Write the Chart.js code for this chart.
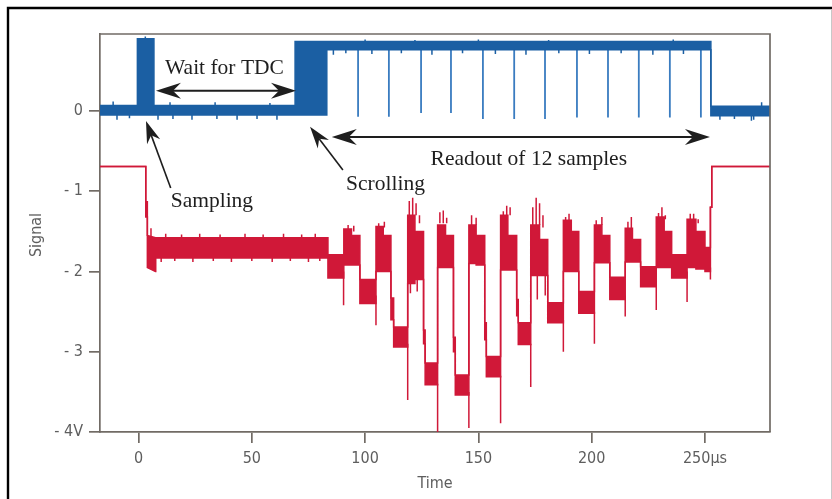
<!DOCTYPE html>
<html>
<head>
<meta charset="utf-8">
<script src="https://cdn.jsdelivr.net/npm/chart.js@4/dist/chart.umd.min.js"></script>
<style>
  html, body { margin: 0; padding: 0; background: #ffffff; }
  #wrap { width: 832px; height: 499px; }
</style>
</head>
<body>
<div id="wrap"><canvas id="c" width="832" height="499"></canvas></div>
<script>
// ---------------- DATA ----------------
const xTicks = [0, 50, 100, 150, 200, 250];
const xTickLabels = ['0', '50', '100', '150', '200', '250µs'];
const yTicks = [-4, -3, -2, -1, 0];
const yTickLabels = ['- 4V', '- 3', '- 2', '- 1', '0'];

// Blue (digital) trace: envelope of the noisy band
const blueX  = [-17, -0.5, -0.5, 6.8, 6.8, 69.1, 69.1, 83.1, 83.1, 252.6, 252.6, 278.7];
const blueHi = [0.07, 0.07, 0.90, 0.90, 0.07, 0.07, 0.865, 0.865, 0.865, 0.865, 0.06, 0.06];
const blueLo = [-0.05, -0.05, -0.05, -0.05, -0.05, -0.05, -0.05, -0.05, 0.765, 0.765, -0.06, -0.06];

// Blue readout pulses (12 samples)
const blueReadoutX   = [96.9, 110.5, 124.7, 137.9, 152.0, 165.8, 179.4, 193.5, 207.2, 220.8, 234.5, 248.2];
const blueReadoutLow = [-0.07, -0.07, -0.025, -0.025, -0.10, -0.10, -0.10, -0.08, -0.08, -0.08, -0.08, -0.08];

// Blue small noise spikes
const blueNoiseX    = [-11.2, -9.5, -4, 3, 8.6, 13.9, 15.2, 23.6, 33.8, 34.6, 43.5, 52.3, 58, 61.1,
                       86, 91.5, 100, 103, 116, 122, 129.5, 143, 150, 157.5, 171, 181, 185.5, 199, 213, 227, 236, 240.5,
                       256.6, 263, 270.5, 271.5, 275];
const blueNoiseFrom = [0.05, -0.03, -0.03, 0.90, -0.03, 0.05, -0.03, -0.03, 0.05, -0.03, -0.03, -0.03, 0.05, -0.03,
                       0.78, 0.78, 0.86, 0.78, 0.78, 0.86, 0.78, 0.78, 0.86, 0.78, 0.78, 0.86, 0.78, 0.78, 0.78, 0.78, 0.86, 0.78,
                       -0.05, -0.05, -0.05, -0.05, 0.05];
const blueNoiseTo   = [0.12, -0.11, -0.09, 0.93, -0.11, 0.11, -0.10, -0.11, 0.11, -0.10, -0.11, -0.10, 0.10, -0.11,
                       0.70, 0.72, 0.89, 0.71, 0.72, 0.885, 0.70, 0.72, 0.89, 0.71, 0.70, 0.885, 0.72, 0.71, 0.72, 0.70, 0.89, 0.71,
                       -0.11, -0.10, -0.12, -0.11, 0.11];

// Red (analog) trace: envelope of the noisy band (step-wise)
const redX  = [-17, 3.2, 3.2, 3.9, 3.9, 7.5, 7.6, 83.6, 83.6, 90.6,
               90.6, 94, 94, 97.7, 97.7, 104.8,
               104.8, 108, 108, 111.4, 111.4, 112.6, 112.6, 118.8,
               118.8, 122, 122, 125.8, 125.8, 126.5, 126.5, 132,
               132, 135.5, 135.5, 139, 139, 139.8, 139.8, 145.8,
               145.8, 149, 149, 152.8, 152.8, 153.5, 153.5, 159.8,
               159.8, 163, 163, 166.9, 166.9, 167.6, 167.6, 173.1,
               173.1, 177, 177, 180.6, 180.6, 187.5,
               187.5, 191, 191, 194.3, 194.3, 201.2,
               201.2, 204.5, 204.5, 208, 208, 214.8,
               214.8, 218, 218, 221.6, 221.6, 228.5,
               228.5, 232, 232, 235.3, 235.3, 242.1,
               242.1, 246, 246, 250, 250, 252.4, 252.4, 253, 253, 278.7];
const redHi = [-0.69, -0.69, -1.13, -1.13, -1.55, -1.58, -1.58, -1.58, -1.79, -1.79,
               -1.47, -1.47, -1.55, -1.55, -2.10, -2.10,
               -1.44, -1.44, -1.55, -1.55, -2.33, -2.33, -2.69, -2.69,
               -1.30, -1.30, -1.50, -1.50, -2.73, -2.73, -3.14, -3.14,
               -1.42, -1.42, -1.55, -1.55, -2.82, -2.82, -3.29, -3.29,
               -1.42, -1.42, -1.55, -1.55, -2.64, -2.64, -3.06, -3.06,
               -1.30, -1.30, -1.55, -1.55, -2.35, -2.35, -2.64, -2.64,
               -1.42, -1.42, -1.60, -1.60, -2.39, -2.39,
               -1.36, -1.36, -1.50, -1.50, -2.25, -2.25,
               -1.42, -1.42, -1.55, -1.55, -2.07, -2.07,
               -1.46, -1.46, -1.60, -1.60, -1.94, -1.94,
               -1.32, -1.32, -1.50, -1.50, -1.79, -1.79,
               -1.35, -1.35, -1.50, -1.50, -1.70, -1.70, -1.20, -1.20, -0.69, -0.69];
const redLo = [-0.69, -0.69, -1.32, -1.32, -1.95, -2.00, -1.83, -1.83, -2.08, -2.08,
               -1.92, -1.92, -1.92, -1.92, -2.40, -2.40,
               -2.00, -2.00, -2.00, -2.00, -2.60, -2.60, -2.94, -2.94,
               -2.15, -2.15, -2.10, -2.10, -2.90, -2.90, -3.41, -3.41,
               -1.95, -1.95, -1.95, -1.95, -3.00, -3.00, -3.54, -3.54,
               -1.90, -1.90, -1.92, -1.92, -2.85, -2.85, -3.31, -3.31,
               -1.98, -1.98, -1.98, -1.98, -2.55, -2.55, -2.91, -2.91,
               -2.05, -2.05, -2.05, -2.05, -2.64, -2.64,
               -2.00, -2.00, -2.00, -2.00, -2.52, -2.52,
               -1.89, -1.89, -1.89, -1.89, -2.35, -2.35,
               -1.88, -1.88, -1.88, -1.88, -2.19, -2.19,
               -1.95, -1.95, -1.95, -1.95, -2.08, -2.08,
               -1.95, -1.95, -1.97, -1.97, -2.00, -2.00, -1.20, -1.20, -0.69, -0.69];

// Red spikes (vertical excursions off the band)
const redSpikeX    = [90.5, 104.8, 118.8, 132.0, 145.8, 159.8, 173.1, 187.5, 201.2, 214.8, 228.5, 242.1, 252.4,
                      5.5, 92.5, 95, 106, 108.5, 119.5, 121, 122.5, 124, 133, 134.5, 136, 147, 149,
                      161, 162.5, 164, 174, 175.5, 177, 178.5, 188.5, 190, 202, 204.5, 216, 217.5,
                      229.5, 231, 232.5, 243.5, 245, 247, 120, 123, 176, 179.5,
                      12, 19, 27, 36, 47, 55, 64, 72, 78, 10, 16, 24, 33, 41, 50, 59, 67, 75, 80];
const redSpikeFrom = [-2.00, -2.30, -2.90, -3.40, -3.50, -3.30, -2.90, -2.60, -2.50, -2.30, -2.10, -2.00, -1.95,
                      -1.60, -1.48, -1.50, -1.44, -1.45, -1.30, -1.30, -1.30, -1.40, -1.40, -1.40, -1.40, -1.42, -1.42,
                      -1.30, -1.30, -1.30, -1.42, -1.42, -1.42, -1.45, -1.36, -1.36, -1.42, -1.42, -1.46, -1.46,
                      -1.32, -1.32, -1.35, -1.35, -1.35, -1.40, -2.10, -2.10, -2.00, -2.00,
                      -1.58, -1.58, -1.58, -1.58, -1.58, -1.58, -1.58, -1.58, -1.58,
                      -1.83, -1.83, -1.83, -1.83, -1.83, -1.83, -1.83, -1.83, -1.83, -1.83];
const redSpikeTo   = [-2.42, -2.67, -3.60, -4.00, -3.95, -3.89, -3.44, -3.00, -2.90, -2.56, -2.48, -2.38, -2.10,
                      -1.46, -1.42, -1.43, -1.40, -1.38, -1.12, -1.08, -1.15, -1.30, -1.26, -1.24, -1.33, -1.30, -1.33,
                      -1.25, -1.18, -1.20, -1.20, -1.08, -1.15, -1.30, -1.32, -1.28, -1.36, -1.32, -1.38, -1.32,
                      -1.27, -1.20, -1.30, -1.28, -1.28, -1.35, -2.27, -2.25, -2.35, -2.30,
                      -1.53, -1.54, -1.53, -1.54, -1.53, -1.54, -1.53, -1.54, -1.53,
                      -1.88, -1.87, -1.88, -1.87, -1.88, -1.87, -1.88, -1.87, -1.88, -1.87];

// ---------------- STYLE / ANNOTATIONS ----------------
const BLUE = '#1b5fa3';
const BLUE_LIGHT = '#3a7cc0';
const RED = '#d01838';
const AXIS = '#716b65';
const TICKTXT = '#5e5e5e';
const SANS = "'DejaVu Sans Condensed', 'Liberation Sans Narrow', sans-serif";
const SERIF = "'Liberation Serif', 'Times New Roman', serif";

// annotation placement in data units
const annoTexts = [
  { text: 'Wait for TDC', x: 11.7, y: 0.46 },
  { text: 'Sampling', x: 14.2, y: -1.19 },
  { text: 'Scrolling', x: 91.6, y: -0.985 },
  { text: 'Readout of 12 samples', x: 128.9, y: -0.672 }
];
const annoArrows = [
  { x1: 7.7, y1: 0.253, x2: 69.5, y2: 0.253, both: true },
  { x1: 85.3, y1: -0.324, x2: 252.2, y2: -0.324, both: true },
  { x1: 14.2, y1: -0.96, x2: 3.3, y2: -0.125, both: false },
  { x1: 90.2, y1: -0.735, x2: 75.7, y2: -0.196, both: false }
];

// ---------------- build datasets ----------------
const pts = (xs, ys) => xs.map((x, i) => ({ x: x, y: ys[i] }));
function spikes(xs, from, to) {
  const out = [];
  xs.forEach((x, i) => { out.push({ x: x, y: from[i] }); out.push({ x: x, y: to[i] }); out.push({ x: x, y: null }); });
  return out;
}
const blueReadoutTop = blueReadoutX.map(() => 0.80);

const lineBase = { pointRadius: 0, pointHoverRadius: 0, tension: 0, spanGaps: false };

function arrowHead(ctx, tx, ty, fx, fy, L, W, N) {
  const dx = tx - fx, dy = ty - fy, len = Math.hypot(dx, dy);
  const ux = dx / len, uy = dy / len, px = -uy, py = ux;
  ctx.beginPath();
  ctx.moveTo(tx, ty);
  ctx.lineTo(tx - ux * L + px * W, ty - uy * L + py * W);
  ctx.lineTo(tx - ux * N, ty - uy * N);
  ctx.lineTo(tx - ux * L - px * W, ty - uy * L - py * W);
  ctx.closePath();
  ctx.fill();
}

const decor = {
  id: 'decor',
  beforeDraw(chart) {
    const ctx = chart.ctx;
    ctx.save();
    ctx.fillStyle = '#ffffff';
    ctx.fillRect(0, 0, chart.width, chart.height);
    ctx.restore();
  },
  afterDraw(chart) {
    const ctx = chart.ctx;
    const a = chart.chartArea;
    const xs = chart.scales.x, ys = chart.scales.y;
    ctx.save();
    // plot frame (top/right)
    ctx.strokeStyle = AXIS;
    ctx.lineWidth = 1.7;
    ctx.beginPath();
    ctx.moveTo(a.left, a.top);
    ctx.lineTo(a.right, a.top);
    ctx.lineTo(a.right, a.bottom);
    ctx.stroke();
    // figure frame
    ctx.strokeStyle = '#000';
    ctx.lineWidth = 2.4;
    ctx.beginPath();
    ctx.moveTo(8, chart.height + 2);
    ctx.lineTo(8, 8);
    ctx.lineTo(chart.width + 2, 8);
    ctx.stroke();
    ctx.strokeStyle = '#c8c8c8';
    ctx.lineWidth = 1;
    ctx.beginPath();
    ctx.moveTo(831.5, 9);
    ctx.lineTo(831.5, chart.height);
    ctx.stroke();
    // axis titles
    ctx.fillStyle = TICKTXT;
    ctx.font = '16px ' + SANS;
    ctx.textAlign = 'center';
    ctx.textBaseline = 'middle';
    ctx.fillText('Time', (a.left + a.right) / 2 + 0, chart.height - 15);
    ctx.translate(37, (a.top + a.bottom) / 2 + 2);
    ctx.rotate(-Math.PI / 2);
    ctx.fillText('Signal', 0, 0);
    ctx.restore();

    // annotations
    ctx.save();
    ctx.fillStyle = '#1e1e1e';
    ctx.strokeStyle = '#1e1e1e';
    ctx.font = '21.5px ' + SERIF;
    ctx.textAlign = 'left';
    ctx.textBaseline = 'alphabetic';
    annoTexts.forEach(t => ctx.fillText(t.text, xs.getPixelForValue(t.x), ys.getPixelForValue(t.y)));
    annoArrows.forEach(ar => {
      const x1 = xs.getPixelForValue(ar.x1), y1 = ys.getPixelForValue(ar.y1);
      const x2 = xs.getPixelForValue(ar.x2), y2 = ys.getPixelForValue(ar.y2);
      ctx.lineWidth = ar.both ? 2 : 1.6;
      const L = ar.both ? 25 : 22, W = ar.both ? 8 : 7, N = ar.both ? 17 : 15;
      const dx = x2 - x1, dy = y2 - y1, len = Math.hypot(dx, dy), ux = dx / len, uy = dy / len;
      const sx = ar.both ? x1 + ux * N : x1, sy = ar.both ? y1 + uy * N : y1;
      ctx.beginPath();
      ctx.moveTo(sx, sy);
      ctx.lineTo(x2 - ux * N, y2 - uy * N);
      ctx.stroke();
      arrowHead(ctx, x2, y2, x1, y1, L, W, N);
      if (ar.both) arrowHead(ctx, x1, y1, x2, y2, L, W, N);
    });
    ctx.restore();
  }
};

const chart = new Chart(document.getElementById('c'), {
  type: 'line',
  data: {
    datasets: [
      Object.assign({}, lineBase, { label: 'blueHi', data: pts(blueX, blueHi), borderColor: BLUE, borderWidth: 1.5, backgroundColor: BLUE, fill: '+1' }),
      Object.assign({}, lineBase, { label: 'blueLo', data: pts(blueX, blueLo), borderColor: BLUE, borderWidth: 1.5, fill: false }),
      Object.assign({}, lineBase, { label: 'blueReadout', data: spikes(blueReadoutX, blueReadoutTop, blueReadoutLow), borderColor: BLUE_LIGHT, borderWidth: 1.8, fill: false }),
      Object.assign({}, lineBase, { label: 'blueNoise', data: spikes(blueNoiseX, blueNoiseFrom, blueNoiseTo), borderColor: BLUE, borderWidth: 1.5, fill: false }),
      Object.assign({}, lineBase, { label: 'redHi', data: pts(redX, redHi), borderColor: RED, borderWidth: 1.5, backgroundColor: RED, fill: '+1' }),
      Object.assign({}, lineBase, { label: 'redLo', data: pts(redX, redLo), borderColor: RED, borderWidth: 1.5, fill: false }),
      Object.assign({}, lineBase, { label: 'redSpikes', data: spikes(redSpikeX, redSpikeFrom, redSpikeTo), borderColor: RED, borderWidth: 1.5, fill: false })
    ]
  },
  options: {
    responsive: false,
    animation: false,
    devicePixelRatio: 1,
    parsing: true,
    layout: { padding: { top: 34, right: 62, left: 0, bottom: 0 } },
    plugins: { legend: { display: false }, tooltip: { enabled: false }, title: { display: false } },
    events: [],
    scales: {
      x: {
        type: 'linear',
        min: -17,
        max: 278.7,
        afterBuildTicks: s => { s.ticks = xTicks.map(v => ({ value: v })); },
        afterFit: s => { s.height = 67; },
        ticks: {
          autoSkip: false, maxRotation: 0, padding: 6, color: TICKTXT,
          font: { family: SANS, size: 16 },
          callback: v => xTickLabels[xTicks.indexOf(v)]
        },
        grid: { display: true, drawOnChartArea: false, drawTicks: true, tickLength: 11, color: AXIS, lineWidth: 1.7 },
        border: { display: true, color: AXIS, width: 1.7 }
      },
      y: {
        type: 'linear',
        min: -4,
        max: 0.96,
        afterBuildTicks: s => { s.ticks = yTicks.map(v => ({ value: v })); },
        afterFit: s => { s.width = 100; },
        ticks: {
          autoSkip: false, padding: 6, color: TICKTXT,
          font: { family: SANS, size: 16 },
          callback: v => yTickLabels[yTicks.indexOf(v)]
        },
        grid: { display: true, drawOnChartArea: false, drawTicks: true, tickLength: 11, color: AXIS, lineWidth: 1.7 },
        border: { display: true, color: AXIS, width: 1.7 }
      }
    }
  },
  plugins: [decor]
});
</script>
</body>
</html>
